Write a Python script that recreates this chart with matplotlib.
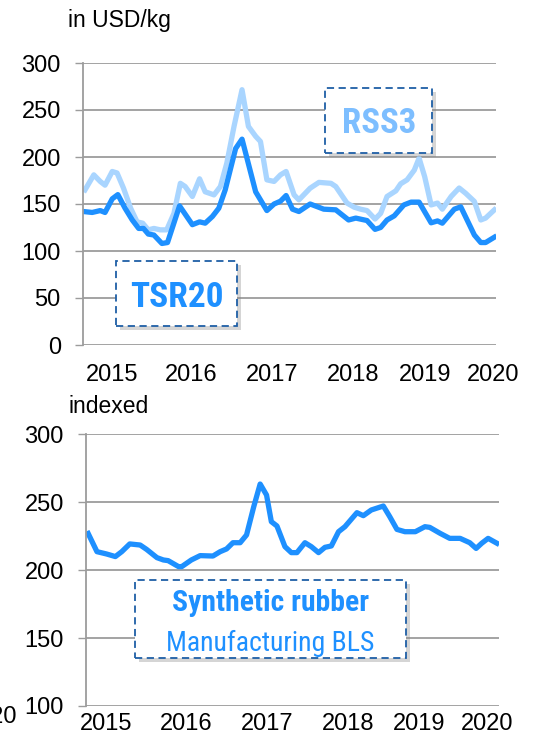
import matplotlib
matplotlib.use("Agg")
import matplotlib.pyplot as plt
import matplotlib.patheffects as pe
from matplotlib.patches import Rectangle

plt.rcParams['font.family'] = ['Liberation Sans', 'DejaVu Sans']

# Natural rubber prices (monthly, decimal year), USD/kg
tsr20_t = [2014.74, 2014.85, 2014.95, 2015.01, 2015.10, 2015.17, 2015.26, 2015.35,
           2015.43, 2015.49, 2015.55, 2015.62, 2015.72, 2015.79, 2015.94, 2016.10,
           2016.19, 2016.26, 2016.35, 2016.43, 2016.51, 2016.64, 2016.72, 2016.89,
           2017.03, 2017.12, 2017.20, 2017.27, 2017.35, 2017.43, 2017.57, 2017.74,
           2017.89, 2018.05, 2018.14, 2018.28, 2018.38, 2018.45, 2018.53, 2018.62,
           2018.74, 2018.83, 2018.93, 2019.08, 2019.16, 2019.22, 2019.37, 2019.45,
           2019.62, 2019.70, 2019.76, 2019.87]
tsr20 = [142, 141, 143, 141, 155.5, 160, 145.5, 133,
         124, 124, 118, 117, 108, 109, 148, 128,
         131, 129.6, 136.7, 145.5, 165, 209, 219, 163,
         143, 150, 153, 159, 144.5, 142, 150, 144.5,
         143.8, 133, 135, 132.4, 123, 125, 133, 137.4,
         149, 152, 152, 130, 132, 129.6, 144.5, 147,
         117, 109, 109, 114.7]

rss3_t = [2014.76, 2014.87, 2014.95, 2015.01, 2015.10, 2015.16, 2015.24, 2015.33,
          2015.41, 2015.48, 2015.55, 2015.62, 2015.70, 2015.78, 2015.87, 2015.95,
          2016.01, 2016.10, 2016.19, 2016.26, 2016.37, 2016.45, 2016.53, 2016.62,
          2016.72, 2016.80, 2016.89, 2016.95, 2017.03, 2017.12, 2017.20, 2017.27,
          2017.37, 2017.43, 2017.57, 2017.68, 2017.83, 2017.89, 2018.03, 2018.12,
          2018.20, 2018.28, 2018.38, 2018.45, 2018.53, 2018.64, 2018.70, 2018.78,
          2018.87, 2018.93, 2019.00, 2019.08, 2019.16, 2019.22, 2019.33, 2019.43,
          2019.51, 2019.62, 2019.70, 2019.76, 2019.87]
rss3 = [165, 181, 174, 170, 184.6, 183, 167, 145.5,
        131, 129.6, 122.5, 124, 122.5, 122.5, 140, 172,
        168.6, 158, 176.8, 163, 159.7, 168.6, 193.5, 232.5,
        271.6, 232.5, 222, 216.5, 175.7, 174, 181, 184.6,
        159.7, 154.4, 166.8, 173, 172, 168.6, 151, 146.6,
        144.5, 143, 134, 140, 158, 164, 171.5, 175.7,
        186, 198.8, 179, 149, 151, 144.5, 158, 167,
        161.5, 152.7, 133, 135, 143.8]

# Synthetic rubber, manufacturing producer price index (BLS)
synth_t = [2014.76, 2014.87, 2014.99, 2015.10, 2015.18, 2015.28, 2015.41, 2015.49,
           2015.62, 2015.70, 2015.76, 2015.89, 2015.93, 2016.05, 2016.16, 2016.32,
           2016.41, 2016.49, 2016.57, 2016.66, 2016.74, 2016.83, 2016.91, 2016.99,
           2017.05, 2017.12, 2017.22, 2017.30, 2017.37, 2017.47, 2017.55, 2017.64,
           2017.72, 2017.80, 2017.89, 2017.97, 2018.12, 2018.20, 2018.30, 2018.45,
           2018.53, 2018.62, 2018.72, 2018.85, 2018.97, 2019.03, 2019.16, 2019.28,
           2019.41, 2019.53, 2019.61, 2019.68, 2019.76, 2019.87]
synth = [227, 213.6, 211.9, 210, 213.6, 219.3, 218.5, 215.3,
         209.2, 207.5, 207, 202.6, 202.6, 207.5, 210.7, 210.4,
         213.6, 215.6, 220.2, 220.2, 225.9, 246.7, 263.4, 255.3,
         235.7, 232.5, 217.3, 212.9, 212.9, 220.2, 217.3, 212.9,
         216.8, 217.8, 228.3, 232, 242.3, 240.1, 244.3, 247.2,
         239.4, 230, 228.3, 228.3, 232, 231.5, 227.1, 223.4,
         223.4, 220.2, 216, 219.8, 223.4, 219.8]

year_labels = ['2015', '2016', '2017', '2018', '2019', '2020']
top_label_pos = [2015.10, 2016.09, 2017.10, 2018.11, 2019.01, 2019.86]
bottom_label_pos = [2014.99, 2015.99, 2017.00, 2018.01, 2018.90, 2019.75]

DARK = '#1E90FF'
LIGHT = '#A9D5FF'
GRID = '#9C9C9C'
BOX_EDGE = '#1F5FA6'
W, H = 557, 736

NARROW = ['Liberation Sans Narrow', 'Arial Narrow', 'Roboto Condensed',
          'Archivo Narrow', 'PT Sans Narrow', 'Liberation Sans']

fig = plt.figure(figsize=(W / 100, H / 100), dpi=100)


def px_rect(left, top, right, bottom):
    return [left / W, 1 - bottom / H, (right - left) / W, (bottom - top) / H]


def style_axes(ax, label_pos, xpad):
    for s in ['top', 'right', 'bottom']:
        ax.spines[s].set_visible(False)
    ax.spines['left'].set_color(GRID)
    ax.spines['left'].set_linewidth(1.3)
    ax.yaxis.grid(True, color=GRID, linewidth=1.3)
    ax.set_axisbelow(True)
    ax.tick_params(axis='y', direction='out', length=6, width=1.0, color=GRID,
                   labelsize=17, pad=10)
    ax.tick_params(axis='x', length=0, labelsize=17, pad=xpad)
    ax.set_xticks(label_pos)
    ax.set_xticklabels(year_labels)


def dashed_box(left, top, right, bottom):
    r = Rectangle((left / W, 1 - bottom / H), (right - left) / W, (bottom - top) / H,
                  transform=fig.transFigure, facecolor='white', edgecolor=BOX_EDGE,
                  linewidth=1.3, linestyle=(0, (4, 2.5)), zorder=5,
                  path_effects=[pe.SimplePatchShadow(offset=(3, -3), shadow_rgbFace='#888888',
                                                     alpha=0.35), pe.Normal()])
    fig.add_artist(r)


# Top panel: natural rubber prices
ax1 = fig.add_axes(px_rect(83, 63, 496, 345))
ax1.plot(rss3_t, rss3, color=LIGHT, linewidth=3.8, solid_joinstyle='round')
ax1.plot(tsr20_t, tsr20, color=DARK, linewidth=3.8, solid_joinstyle='round')
ax1.set_ylim(0, 300)
ax1.set_yticks([0, 50, 100, 150, 200, 250, 300])
ax1.set_xlim(2014.735, 2019.89)
style_axes(ax1, top_label_pos, 14)

# Bottom panel: synthetic rubber index
ax2 = fig.add_axes(px_rect(86, 434.3, 499, 706))
ax2.plot(synth_t, synth, color=DARK, linewidth=3.8, solid_joinstyle='round')
ax2.set_ylim(100, 300)
ax2.set_yticks([100, 150, 200, 250, 300])
ax2.set_xlim(2014.733, 2019.896)
style_axes(ax2, bottom_label_pos, 5)

# Unit labels
fig.text(68 / W, 1 - 27 / H, 'in USD/kg', fontsize=16.5, va='baseline')
fig.text(68 / W, 1 - 412.7 / H, 'indexed', fontsize=16.5, va='baseline')
fig.text(17 / W, 1 - 723 / H, '2020', fontsize=17, va='baseline', ha='right')

# Series labels in dashed boxes
dashed_box(325, 88, 432, 153)
fig.text(379 / W, 1 - 133.3 / H, 'RSS3', color='#7DBEFF', fontsize=25,
         ha='center', va='baseline', zorder=6, family=NARROW, weight='bold')

dashed_box(116, 261, 237, 326)
fig.text(177 / W, 1 - 306.7 / H, 'TSR20', color=DARK, fontsize=25.5,
         ha='center', va='baseline', zorder=6, family=NARROW, weight='bold')

dashed_box(135, 580, 406, 658)
fig.text(271 / W, 1 - 610.7 / H, 'Synthetic rubber', color=DARK, fontsize=21.3,
         ha='center', va='baseline', zorder=6, family=NARROW, weight='bold')
fig.text(270 / W, 1 - 650.7 / H, 'Manufacturing BLS', color=DARK, fontsize=20,
         ha='center', va='baseline', zorder=6, family=NARROW)

fig.savefig('out.png', dpi=100)
